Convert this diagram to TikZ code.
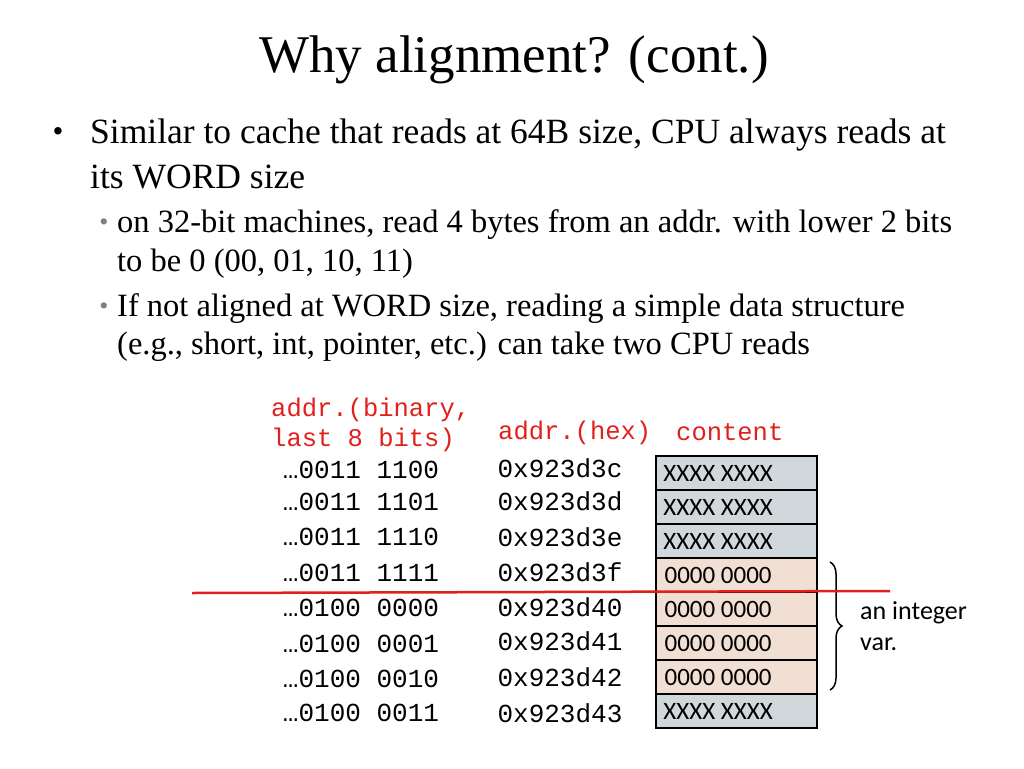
\documentclass[tikz,border=0pt]{standalone}
\usepackage{fontspec}
\setmainfont{Liberation Serif}
\setmonofont{Liberation Mono}
\newfontfamily\calib{Carlito}
\usetikzlibrary{decorations.pathreplacing}
\definecolor{cellgray}{HTML}{D0D8DB}
\definecolor{cellpeach}{HTML}{F2DFD4}
\definecolor{addrred}{HTML}{E0201B}
\tikzset{
  cell/.style={draw=black, line width=2.2pt, minimum width=161pt, minimum height=34pt,
    anchor=north west, inner sep=0pt, font=\calib\fontsize{25}{25}\selectfont},
  addr/.style={font=\ttfamily\fontsize{26}{26}\selectfont},
  hdr/.style={font=\ttfamily\fontsize{25.5}{30}\selectfont, text=addrred, anchor=west, align=left, inner sep=0pt},
}
\begin{document}
\begin{tikzpicture}[x=1pt,y=-1pt]
  \useasboundingbox (0,0) rectangle (1024,768);

  % Title and bullets
  \node (title) at (514,60) {\fontsize{53}{53}\selectfont Why alignment? (cont.)};
  \node[anchor=west, inner sep=0pt] (b1) at (90,135) {\fontsize{35.5}{35.5}\selectfont Similar to cache that reads at 64B size, CPU always reads at};
  \node[anchor=west, inner sep=0pt] (b1b) at (90,177) {\fontsize{35.5}{35.5}\selectfont its WORD size};
  \node (dot1) at (58,135) {\fontsize{31}{31}\selectfont •};
  \node[text=gray] (dot2) at (104,225) {\fontsize{26}{26}\selectfont •};
  \node[text=gray] (dot3) at (104,309) {\fontsize{26}{26}\selectfont •};
  \node[anchor=west, inner sep=0pt] (s1) at (117,225) {\fontsize{32.5}{32.5}\selectfont on 32-bit machines, read 4 bytes from an addr. with lower 2 bits};
  \node[anchor=west, inner sep=0pt] (s1b) at (117,264) {\fontsize{32.5}{32.5}\selectfont to be 0 (00, 01, 10, 11)};
  \node[anchor=west, inner sep=0pt] (s2) at (117,309) {\fontsize{32.5}{32.5}\selectfont If not aligned at WORD size, reading a simple data structure};
  \node[anchor=west, inner sep=0pt] (s2b) at (117,347) {\fontsize{32.5}{32.5}\selectfont (e.g., short, int, pointer, etc.) can take two CPU reads};

  % Headers
  \node[hdr] (hbin) at (271,425) {addr.(binary,\\last 8 bits)};
  \node[hdr] (hhex) at (498,433) {addr.(hex)};
  \node[hdr] (hcont) at (676,432) {content};

  % Rows
  \foreach \i/\bin/\hex/\txt/\col/\by/\hy in {
    0/0011 1100/3c/XXXX XXXX/cellgray/470/468,
    1/0011 1101/3d/XXXX XXXX/cellgray/502/501,
    2/0011 1110/3e/XXXX XXXX/cellgray/537/537,
    3/0011 1111/3f/0000 0000/cellpeach/573/572,
    4/0100 0000/40/0000 0000/cellpeach/608/607,
    5/0100 0001/41/0000 0000/cellpeach/644/641,
    6/0100 0010/42/0000 0000/cellpeach/679/677,
    7/0100 0011/43/XXXX XXXX/cellgray/713/713} {
    \node[cell, fill=\col] (cell\i) at (655,{455+34*\i}) {\hspace*{-37pt}\txt};
    \node[addr] (bin\i) at (361,\by) {…\bin};
    \node[addr] (hex\i) at (560,\hy) {0x923d\hex};
  }

  % Brace and label
  \coordinate (brtop) at (830,562);
  \coordinate (brbot) at (830,690);
  \draw[line width=1.5pt, decorate, decoration={brace, amplitude=12pt}] (brtop) -- (brbot);
  \node[anchor=west, align=left, inner sep=0pt, font=\calib\fontsize{26}{31}\selectfont] (intvar) at (860,626) {an integer\\var.};

  % Red boundary line
  \coordinate (lineL) at (192,593);
  \coordinate (lineR) at (890,591);
  \draw[addrred, line width=2.5pt] (lineL) -- (lineR);
\end{tikzpicture}
\end{document}
